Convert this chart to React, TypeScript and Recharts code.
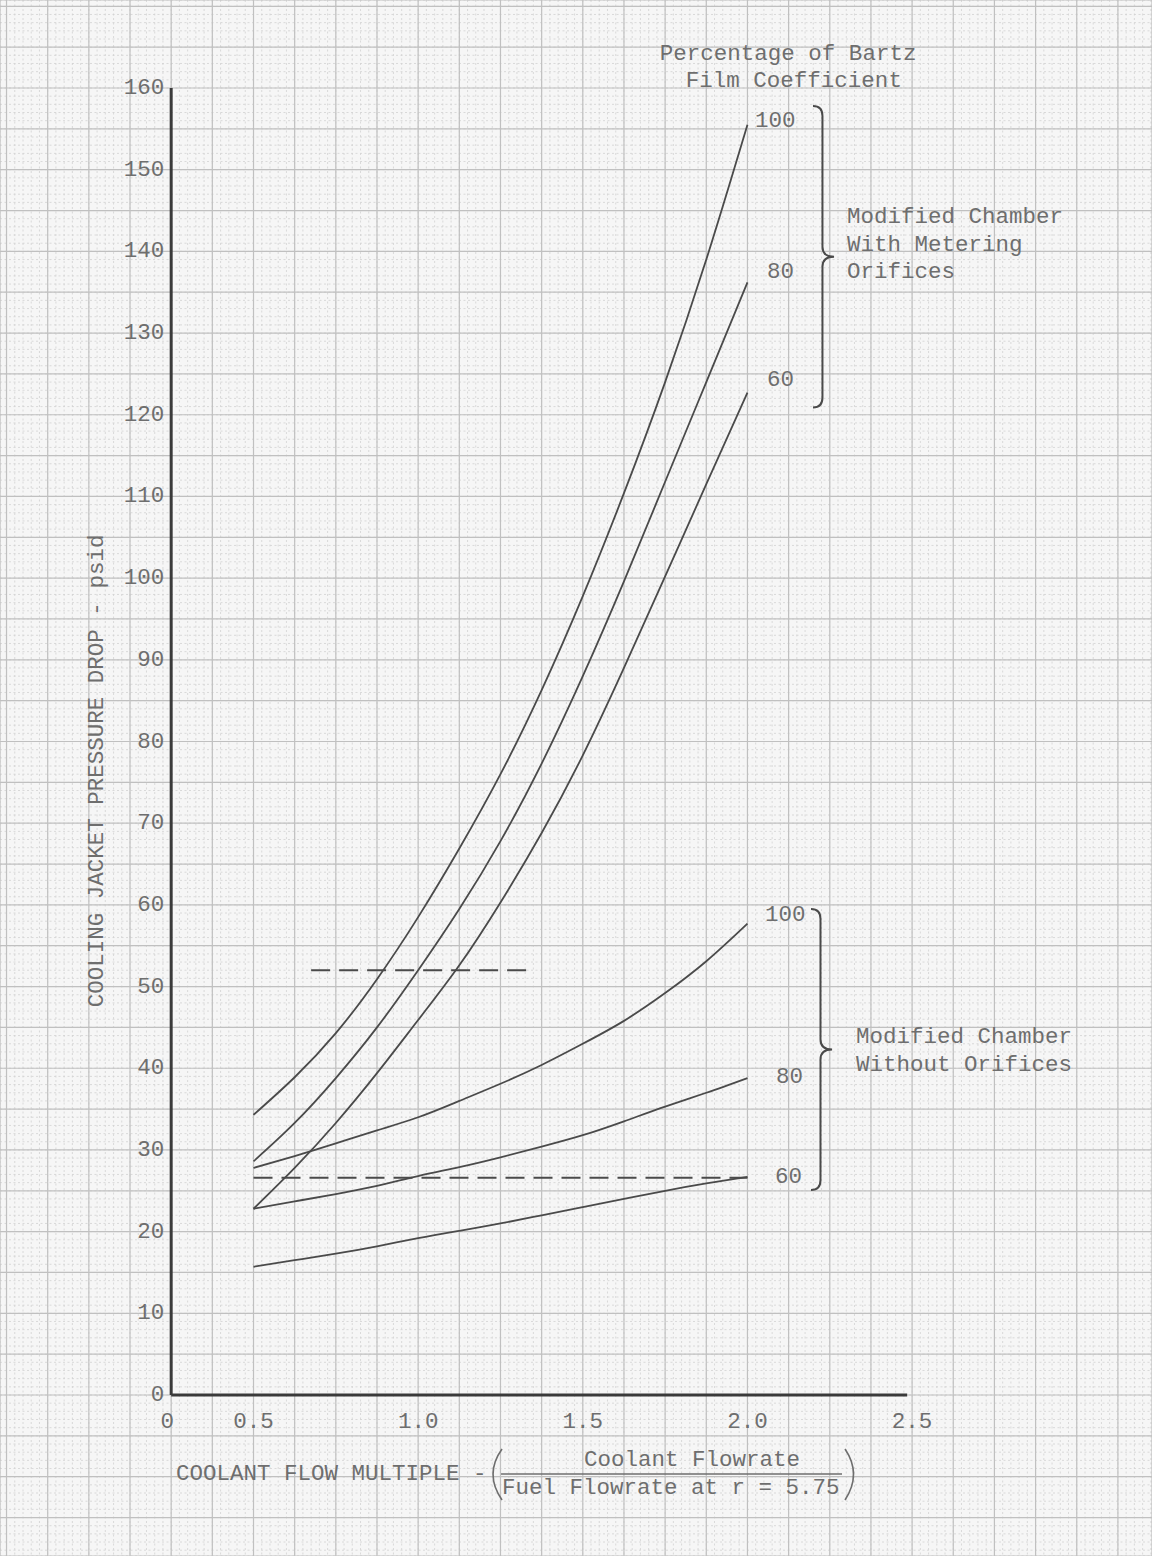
import React from "react";
import {
  ComposedChart,
  Line,
  XAxis,
  YAxis,
  CartesianGrid,
  ReferenceLine,
  ReferenceDot,
  ReferenceArea,
} from "recharts";

// ---------------- data ----------------
const flowMultiple = [0.5, 0.625, 0.75, 0.875, 1.0, 1.125, 1.25, 1.375, 1.5, 1.625, 1.75, 1.875, 2.0];
// Modified chamber with metering orifices (percent of Bartz film coefficient)
const metering100 = [34.3, 38.9, 44.3, 50.9, 58.5, 66.9, 76.0, 86.3, 97.8, 110.4, 124.0, 139.0, 155.5];
const metering80 = [28.6, 33.3, 38.8, 45.0, 52.0, 59.5, 67.8, 77.3, 88.0, 99.6, 111.8, 124.0, 136.2];
const metering60 = [22.8, 27.8, 33.3, 39.4, 45.9, 52.6, 60.3, 68.8, 78.3, 89.0, 100.2, 111.5, 122.7];
// Modified chamber without orifices
const noOrifice100 = [27.8, 29.25, 30.8, 32.4, 34.0, 36.0, 38.1, 40.4, 43.0, 45.8, 49.2, 53.1, 57.7];
const noOrifice80 = [22.8, 23.7, 24.6, 25.6, 26.8, 27.9, 29.1, 30.4, 31.8, 33.5, 35.3, 37.0, 38.8];
const noOrifice60 = [15.7, 16.5, 17.3, 18.2, 19.2, 20.1, 21.0, 22.0, 23.0, 24.0, 25.0, 25.9, 26.7];
// dashed limit lines
const upperDashX = [0.675, 1.35];
const upperDashY = [52.0, 52.0];
const lowerDashX = [0.5, 2.0];
const lowerDashY = [26.6, 26.6];

const curveLabels = ["100", "80", "60"];
const xTickValues = [0.25, 0.5, 1.0, 1.5, 2.0, 2.5];
const xTickLabels = ["0", "0.5", "1.0", "1.5", "2.0", "2.5"];
const yTickValues = [0, 10, 20, 30, 40, 50, 60, 70, 80, 90, 100, 110, 120, 130, 140, 150, 160];
const yTickLabels = yTickValues.map((v) => String(v));

const rows = flowMultiple.map((x, i) => ({
  x,
  m100: metering100[i],
  m80: metering80[i],
  m60: metering60[i],
  n100: noOrifice100[i],
  n80: noOrifice80[i],
  n60: noOrifice60[i],
}));
const upperDashRows = upperDashX.map((x, i) => ({ x, p: upperDashY[i] }));
const lowerDashRows = lowerDashX.map((x, i) => ({ x, p: lowerDashY[i] }));

// ---------------- layout ----------------
const WIDTH = 1152;
const HEIGHT = 1556;
const X_HALF_PX = 253.5; // page pixel of x = 0.5
const X_UNIT_PX = 329.3;
const Y_ZERO_PX = 1395;
const Y_UNIT_PX = 8.16875;
const X_DOMAIN: [number, number] = [0.5 - X_HALF_PX / X_UNIT_PX, 0.5 + (WIDTH - X_HALF_PX) / X_UNIT_PX];
const Y_DOMAIN: [number, number] = [-(HEIGHT - Y_ZERO_PX) / Y_UNIT_PX, Y_ZERO_PX / Y_UNIT_PX];

function gridValues(a: number, b: number, step: number) {
  const out: number[] = [];
  const i0 = Math.ceil(a / step - 1e-9);
  const i1 = Math.floor(b / step + 1e-9);
  for (let i = i0; i <= i1; i++) out.push(+(i * step).toFixed(4));
  return out;
}
const minorX = gridValues(X_DOMAIN[0], X_DOMAIN[1], 0.025);
const majorX = gridValues(X_DOMAIN[0], X_DOMAIN[1], 0.125);
const minorY = gridValues(Y_DOMAIN[0], Y_DOMAIN[1], 1);
const majorY = gridValues(Y_DOMAIN[0], Y_DOMAIN[1], 5);

const CURVE = "#4a4a4a";
const AXIS = "#3a3a3a";
const TEXT = "#6e6e6e";
const FONT = "'Nimbus Mono PS', 'Courier New', 'FreeMono', 'Liberation Mono', 'DejaVu Sans Mono', monospace";
const FS = 22.5;
const textStyle: React.CSSProperties = { fontFamily: FONT, fontSize: FS, fill: TEXT };

function note(key: string, x: number, y: number, render: (cx: number, cy: number) => React.ReactNode) {
  return (
    <ReferenceDot
      key={key}
      xAxisId="main"
      yAxisId="main"
      x={x}
      y={y}
      r={0}
      fill="none"
      stroke="none"
      ifOverflow="visible"
      label={{
        content: (p: any) => {
          const vb = p.viewBox || { x: 0, y: 0, width: 0, height: 0 };
          const cx = vb.x + (vb.width || 0) / 2;
          const cy = vb.y + (vb.height || 0) / 2;
          return render(cx, cy) as any;
        },
      }}
    />
  );
}

function bracePath(x: number, y: number, w: number, h: number) {
  const mx = x + w * 0.45;
  const mid = y + h / 2;
  const r = 10;
  return [
    `M ${x} ${y}`,
    `Q ${mx} ${y} ${mx} ${y + r}`,
    `L ${mx} ${mid - r}`,
    `Q ${mx} ${mid} ${x + w} ${mid}`,
    `Q ${mx} ${mid} ${mx} ${mid + r}`,
    `L ${mx} ${y + h - r}`,
    `Q ${mx} ${y + h} ${x} ${y + h}`,
  ].join(" ");
}

function brace(key: string, x1: number, x2: number, y1: number, y2: number) {
  return (
    <ReferenceArea
      key={key}
      xAxisId="main"
      yAxisId="main"
      x1={x1}
      x2={x2}
      y1={y1}
      y2={y2}
      fill="none"
      stroke="none"
      ifOverflow="visible"
      shape={(p: any) => (
        <path d={bracePath(p.x, p.y, p.width, p.height)} fill="none" stroke={CURVE} strokeWidth={2} />
      )}
    />
  );
}

const seriesKeys = ["m100", "m80", "m60", "n100", "n80", "n60"];

export default function App() {
  return (
    <div style={{ position: "absolute", left: 0, top: 0, width: WIDTH, height: HEIGHT, background: "#f6f6f6" }}>
      <ComposedChart width={WIDTH} height={HEIGHT} data={rows} margin={{ top: 0, right: 0, bottom: 0, left: 0 }}>
        <XAxis xAxisId="minor" dataKey="x" type="number" domain={X_DOMAIN} ticks={minorX} hide allowDataOverflow interval={0} />
        <XAxis xAxisId="main" dataKey="x" type="number" domain={X_DOMAIN} ticks={majorX} hide allowDataOverflow interval={0} />
        <YAxis yAxisId="minor" type="number" domain={Y_DOMAIN} ticks={minorY} hide allowDataOverflow interval={0} />
        <YAxis yAxisId="main" type="number" domain={Y_DOMAIN} ticks={majorY} hide allowDataOverflow interval={0} />
        <CartesianGrid xAxisId="minor" yAxisId="minor" stroke="#d2d2d2" strokeDasharray="2 2.5" strokeWidth={0.8} />
        <CartesianGrid xAxisId="main" yAxisId="main" stroke="#c0c0c0" strokeWidth={1.2} />

        {/* axes */}
        <ReferenceLine
          xAxisId="main"
          yAxisId="main"
          segment={[{ x: xTickValues[0], y: 0 }, { x: xTickValues[0], y: 160 }]}
          stroke={AXIS}
          strokeWidth={3}
          ifOverflow="visible"
        />
        <ReferenceLine
          xAxisId="main"
          yAxisId="main"
          segment={[{ x: xTickValues[0], y: 0 }, { x: 2.485, y: 0 }]}
          stroke={AXIS}
          strokeWidth={3}
          ifOverflow="visible"
        />

        {seriesKeys.map((k) => (
          <Line
            key={k}
            xAxisId="main"
            yAxisId="main"
            dataKey={k}
            type="natural"
            stroke={CURVE}
            strokeWidth={1.8}
            dot={false}
            activeDot={false}
            isAnimationActive={false}
          />
        ))}
        <Line
          xAxisId="main"
          yAxisId="main"
          data={upperDashRows}
          dataKey="p"
          type="linear"
          stroke={CURVE}
          strokeWidth={2}
          strokeDasharray="19 9"
          dot={false}
          activeDot={false}
          isAnimationActive={false}
        />
        <Line
          xAxisId="main"
          yAxisId="main"
          data={lowerDashRows}
          dataKey="p"
          type="linear"
          stroke={CURVE}
          strokeWidth={2}
          strokeDasharray="19 9"
          dot={false}
          activeDot={false}
          isAnimationActive={false}
        />

        {/* tick labels */}
        {yTickValues.map((v, i) =>
          note(`yt${v}`, xTickValues[0], v, (cx, cy) => (
            <text x={cx - 7} y={cy} textAnchor="end" dominantBaseline="central" style={textStyle}>
              {yTickLabels[i]}
            </text>
          ))
        )}
        {xTickValues.map((v, i) =>
          note(`xt${v}`, v, 0, (cx, cy) => (
            <text x={i === 0 ? cx - 4 : cx} y={cy + 27} textAnchor="middle" dominantBaseline="central" style={textStyle}>
              {xTickLabels[i]}
            </text>
          ))
        )}

        {/* axis titles */}
        {note("ytitle", 0.0248, 76.4, (cx, cy) => (
          <text
            x={cx}
            y={cy}
            textAnchor="middle"
            dominantBaseline="central"
            transform={`rotate(-90 ${cx} ${cy})`}
            style={textStyle}
          >
            COOLING JACKET PRESSURE DROP - psid
          </text>
        ))}
        {note("xtitle", 0.2647, -9.67, (cx, cy) => (
          <g>
            <text x={cx} y={cy} dominantBaseline="central" style={textStyle}>
              COOLANT FLOW MULTIPLE -
            </text>
            <path
              d={`M ${cx + 326} ${cy - 25} Q ${cx + 308} ${cy} ${cx + 326} ${cy + 26}`}
              fill="none"
              stroke={TEXT}
              strokeWidth={1.6}
            />
            <line x1={cx + 325} x2={cx + 666} y1={cy} y2={cy} stroke={TEXT} strokeWidth={1.6} />
            <text x={cx + 516} y={cy - 14} textAnchor="middle" dominantBaseline="central" style={textStyle}>
              Coolant Flowrate
            </text>
            <text x={cx + 326} y={cy + 14} dominantBaseline="central" style={textStyle}>
              Fuel Flowrate at r = 5.75
            </text>
            <path
              d={`M ${cx + 669} ${cy - 25} Q ${cx + 686} ${cy} ${cx + 669} ${cy + 26}`}
              fill="none"
              stroke={TEXT}
              strokeWidth={1.6}
            />
          </g>
        ))}

        {/* legend title */}
        {note("ltitle", 1.734, 164.16, (cx, cy) => (
          <g>
            <text x={cx} y={cy} dominantBaseline="central" style={textStyle}>
              Percentage of Bartz
            </text>
            <text x={cx + 26} y={cy + 27} dominantBaseline="central" style={textStyle}>
              Film Coefficient
            </text>
          </g>
        ))}

        {/* curve labels */}
        {note("lm100", 2.0229, 155.96, (cx, cy) => (
          <text x={cx} y={cy} dominantBaseline="central" style={textStyle}>{curveLabels[0]}</text>
        ))}
        {note("lm80", 2.0594, 137.48, (cx, cy) => (
          <text x={cx} y={cy} dominantBaseline="central" style={textStyle}>{curveLabels[1]}</text>
        ))}
        {note("lm60", 2.0594, 124.25, (cx, cy) => (
          <text x={cx} y={cy} dominantBaseline="central" style={textStyle}>{curveLabels[2]}</text>
        ))}
        {note("ln100", 2.0533, 58.76, (cx, cy) => (
          <text x={cx} y={cy} dominantBaseline="central" style={textStyle}>{curveLabels[0]}</text>
        ))}
        {note("ln80", 2.0867, 38.93, (cx, cy) => (
          <text x={cx} y={cy} dominantBaseline="central" style={textStyle}>{curveLabels[1]}</text>
        ))}
        {note("ln60", 2.0837, 26.69, (cx, cy) => (
          <text x={cx} y={cy} dominantBaseline="central" style={textStyle}>{curveLabels[2]}</text>
        ))}

        {/* group braces and names */}
        {brace("b1", 2.199, 2.263, 120.9, 157.8)}
        {brace("b2", 2.193, 2.257, 25.1, 59.5)}
        {note("g1", 2.3022, 144.2, (cx, cy) => (
          <g>
            <text x={cx} y={cy} dominantBaseline="central" style={textStyle}>Modified Chamber</text>
            <text x={cx} y={cy + 28} dominantBaseline="central" style={textStyle}>With Metering</text>
            <text x={cx} y={cy + 55} dominantBaseline="central" style={textStyle}>Orifices</text>
          </g>
        ))}
        {note("g2", 2.3296, 43.83, (cx, cy) => (
          <g>
            <text x={cx} y={cy} dominantBaseline="central" style={textStyle}>Modified Chamber</text>
            <text x={cx} y={cy + 28} dominantBaseline="central" style={textStyle}>Without Orifices</text>
          </g>
        ))}
      </ComposedChart>
    </div>
  );
}
